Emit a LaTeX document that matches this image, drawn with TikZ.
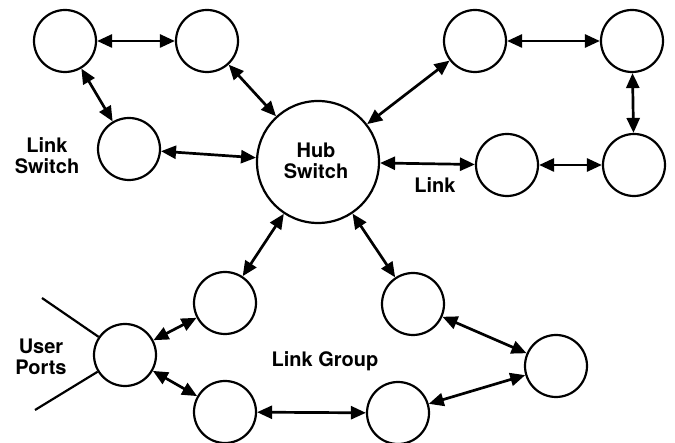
\documentclass[tikz,border=0pt]{standalone}
\usepackage{fontspec}
\setmainfont{TeX Gyre Heros}
\usetikzlibrary{arrows.meta}
\begin{document}
\begin{tikzpicture}[x=1pt,y=-1pt,
  sw/.style={circle,draw,line width=2.2pt,minimum size=62pt,inner sep=0pt},
  hubsw/.style={circle,draw,line width=2.2pt,minimum size=122pt,inner sep=0pt},
  lnk/.style={line width=2.7pt,{Triangle[length=15pt,width=13pt]}-{Triangle[length=15pt,width=13pt]}},
  port/.style={line width=2.2pt},
  lbl/.style={font=\fontsize{20}{21}\selectfont\bfseries,align=center,inner sep=0pt}]
\useasboundingbox (0,0) rectangle (675,443);
\node[sw] (c1) at (65,41) {};
\node[sw] (c2) at (207,41) {};
\node[sw] (c3) at (129,149) {};
\node[hubsw] (hub) at (318,162) {};
\node[sw] (c5) at (475,41) {};
\node[sw] (c6) at (632,41) {};
\node[sw] (c7) at (634,165) {};
\node[sw] (c8) at (507,165) {};
\node[sw] (c9) at (225,303) {};
\node[sw] (c10) at (413,304) {};
\node[sw] (c11) at (125,355) {};
\node[sw] (c12) at (556,366) {};
\node[sw] (c13) at (225,412) {};
\node[sw] (c14) at (398,413) {};
\node[lbl] (tls) at (47,155.5) {Link\\Switch};
\node[lbl] (thub) at (316,161) {Hub\\Switch};
\node[lbl] (tlink) at (435,185.5) {Link};
\node[lbl] (tup) at (41,357) {User\\Ports};
\node[lbl,anchor=base] (tlg) at (325,367) {Link Group};
\coordinate (p1) at (42,298);
\coordinate (p2) at (35,410);
\draw[lnk] (c1) -- (c2);
\draw[lnk] (c1) -- (c3);
\draw[lnk] (c2) -- (hub);
\draw[lnk] (c3) -- (hub);
\draw[lnk] (hub) -- (c5);
\draw[lnk] (c5) -- (c6);
\draw[lnk] (c6) -- (c7);
\draw[lnk] (c7) -- (c8);
\draw[lnk] (hub) -- (c8);
\draw[lnk] (hub) -- (c9);
\draw[lnk] (hub) -- (c10);
\draw[lnk] (c9) -- (c11);
\draw[lnk] (c11) -- (c13);
\draw[lnk] (c13) -- (c14);
\draw[lnk] (c14) -- (c12);
\draw[lnk] (c10) -- (c12);
\draw[port] (p1) -- (c11);
\draw[port] (p2) -- (c11);
\end{tikzpicture}
\end{document}
